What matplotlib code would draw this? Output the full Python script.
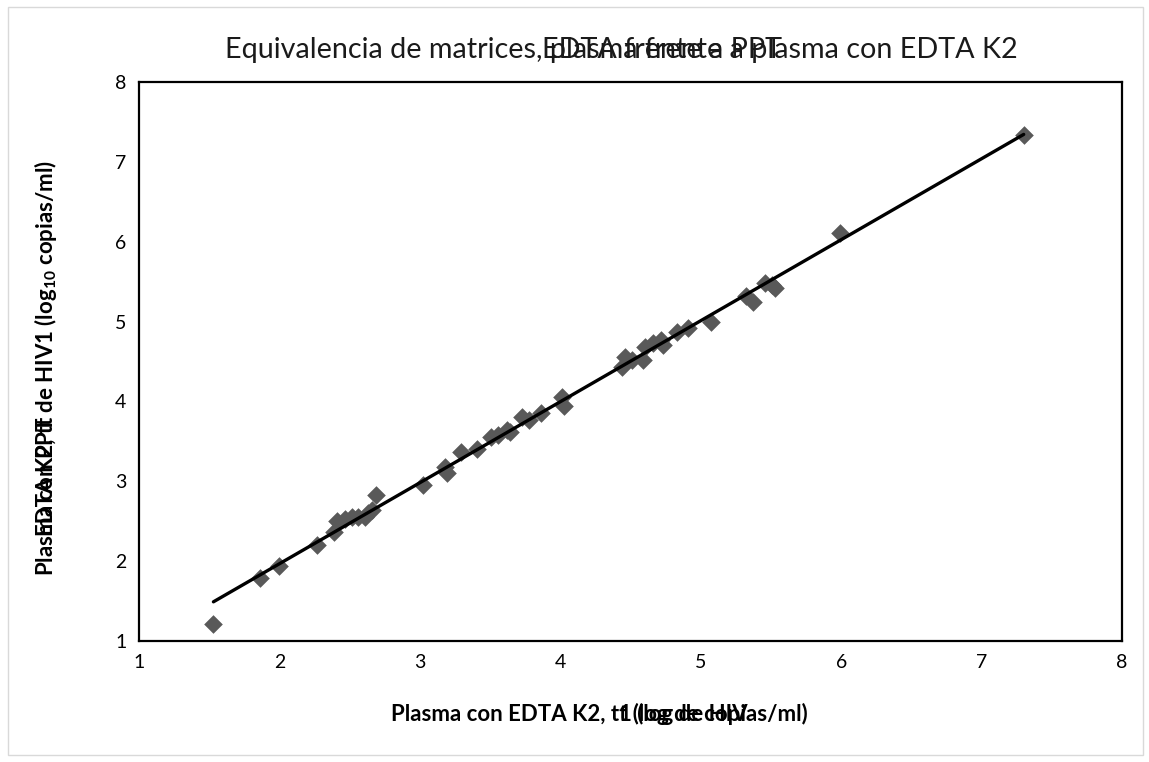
import numpy as np
import matplotlib
matplotlib.use('Agg')
import matplotlib.pyplot as plt
from matplotlib.patches import Rectangle

plt.rcParams['font.family'] = ['Lato', 'DejaVu Sans']
plt.rcParams['mathtext.default'] = 'regular'

# log10 copies/ml, plasma with EDTA K2 (x) vs PPT (y)
edta_k2 = [1.53, 1.86, 2.00, 2.27, 2.39, 2.41, 2.47, 2.52, 2.56, 2.61, 2.63, 2.66, 2.69,
           3.02, 3.18, 3.19, 3.29, 3.41, 3.51, 3.56, 3.62, 3.64, 3.73, 3.78, 3.86, 4.01,
           4.03, 4.44, 4.46, 4.51, 4.59, 4.60, 4.66, 4.72, 4.73, 4.83, 4.91, 5.07, 5.32,
           5.37, 5.46, 5.51, 5.53, 5.99, 7.30]
ppt = [1.21, 1.79, 1.94, 2.20, 2.36, 2.50, 2.53, 2.55, 2.55, 2.55, 2.60, 2.64, 2.83,
       2.95, 3.18, 3.10, 3.37, 3.40, 3.55, 3.58, 3.64, 3.62, 3.80, 3.77, 3.85, 4.06,
       3.94, 4.43, 4.56, 4.52, 4.52, 4.68, 4.73, 4.77, 4.71, 4.87, 4.92, 5.00, 5.32,
       5.25, 5.48, 5.46, 5.42, 6.11, 7.34]

ticks = [1, 2, 3, 4, 5, 6, 7, 8]

x = np.array(edta_k2)
y = np.array(ppt)

fig = plt.figure(figsize=(11.49, 7.62), dpi=100)
ax = fig.add_axes([139/1149, 1 - 641/762, (1122-139)/1149, (641-82)/762])

ax.scatter(x, y, marker='D', s=90, color='#595959', zorder=2, linewidths=0)

# linear trendline over the data range
slope, icpt = np.polyfit(x, y, 1)
xs = np.array([x.min(), x.max()])
ax.plot(xs, slope*xs + icpt, color='black', lw=2.4, zorder=3, solid_capstyle='round')

ax.set_xlim(1, 8)
ax.set_ylim(1, 8)
ax.set_xticks(ticks)
ax.set_yticks(ticks)
ax.tick_params(length=0, labelsize=14, pad=9)
for sp in ax.spines.values():
    sp.set_linewidth(1.6)
    sp.set_color('black')

# chart area border
fig.patches.append(Rectangle((8/1149, 1-755/762), (1143-8)/1149, (755-7)/762,
                             transform=fig.transFigure, fill=False,
                             edgecolor='#d9d9d9', lw=1))

fig.canvas.draw()
r = fig.canvas.get_renderer()


def width_px(s, **kw):
    t = fig.text(0, 0, s, **kw)
    w = t.get_window_extent(r).width
    t.remove()
    return w


def stacked(base, prefix, over, cx, cy, vertical=False, **kw):
    # base text centred on (cx, cy) px, second string drawn on top of it after prefix
    w = width_px(base, **kw)
    off = width_px(prefix, **kw)
    if vertical:
        y0 = cy - w/2
        fig.text(cx/1149, y0/762, base, rotation=90,
                 rotation_mode='anchor', ha='left', va='baseline', **kw)
        fig.text(cx/1149, (y0 + off)/762, over, rotation=90,
                 rotation_mode='anchor', ha='left', va='baseline', **kw)
    else:
        x0 = cx - w/2
        fig.text(x0/1149, cy/762, base, ha='left', va='baseline', **kw)
        fig.text((x0 + off)/1149, cy/762, over, ha='left', va='baseline', **kw)


stacked('Equivalencia de matrices, plasma frente a plasma con EDTA K2',
        'Equivalencia de matrices,', 'EDTA frente a PPT',
        621, 762 - 58, fontsize=20.7, color='#1a1a1a')
stacked('Plasma con EDTA K2, tt (log de copias/ml)',
        'Plasma con EDTA K2, t', '1 (log de HIV',
        599, 762 - 721, fontsize=16, fontweight='bold')
stacked('Plasma con PPT de HIV1 (log$_{10}$ copias/ml)',
        'Plas', 'EDTA K2, tt',
        53, 762 - 368, vertical=True, fontsize=16, fontweight='bold')

fig.savefig('out.png', dpi=100)
